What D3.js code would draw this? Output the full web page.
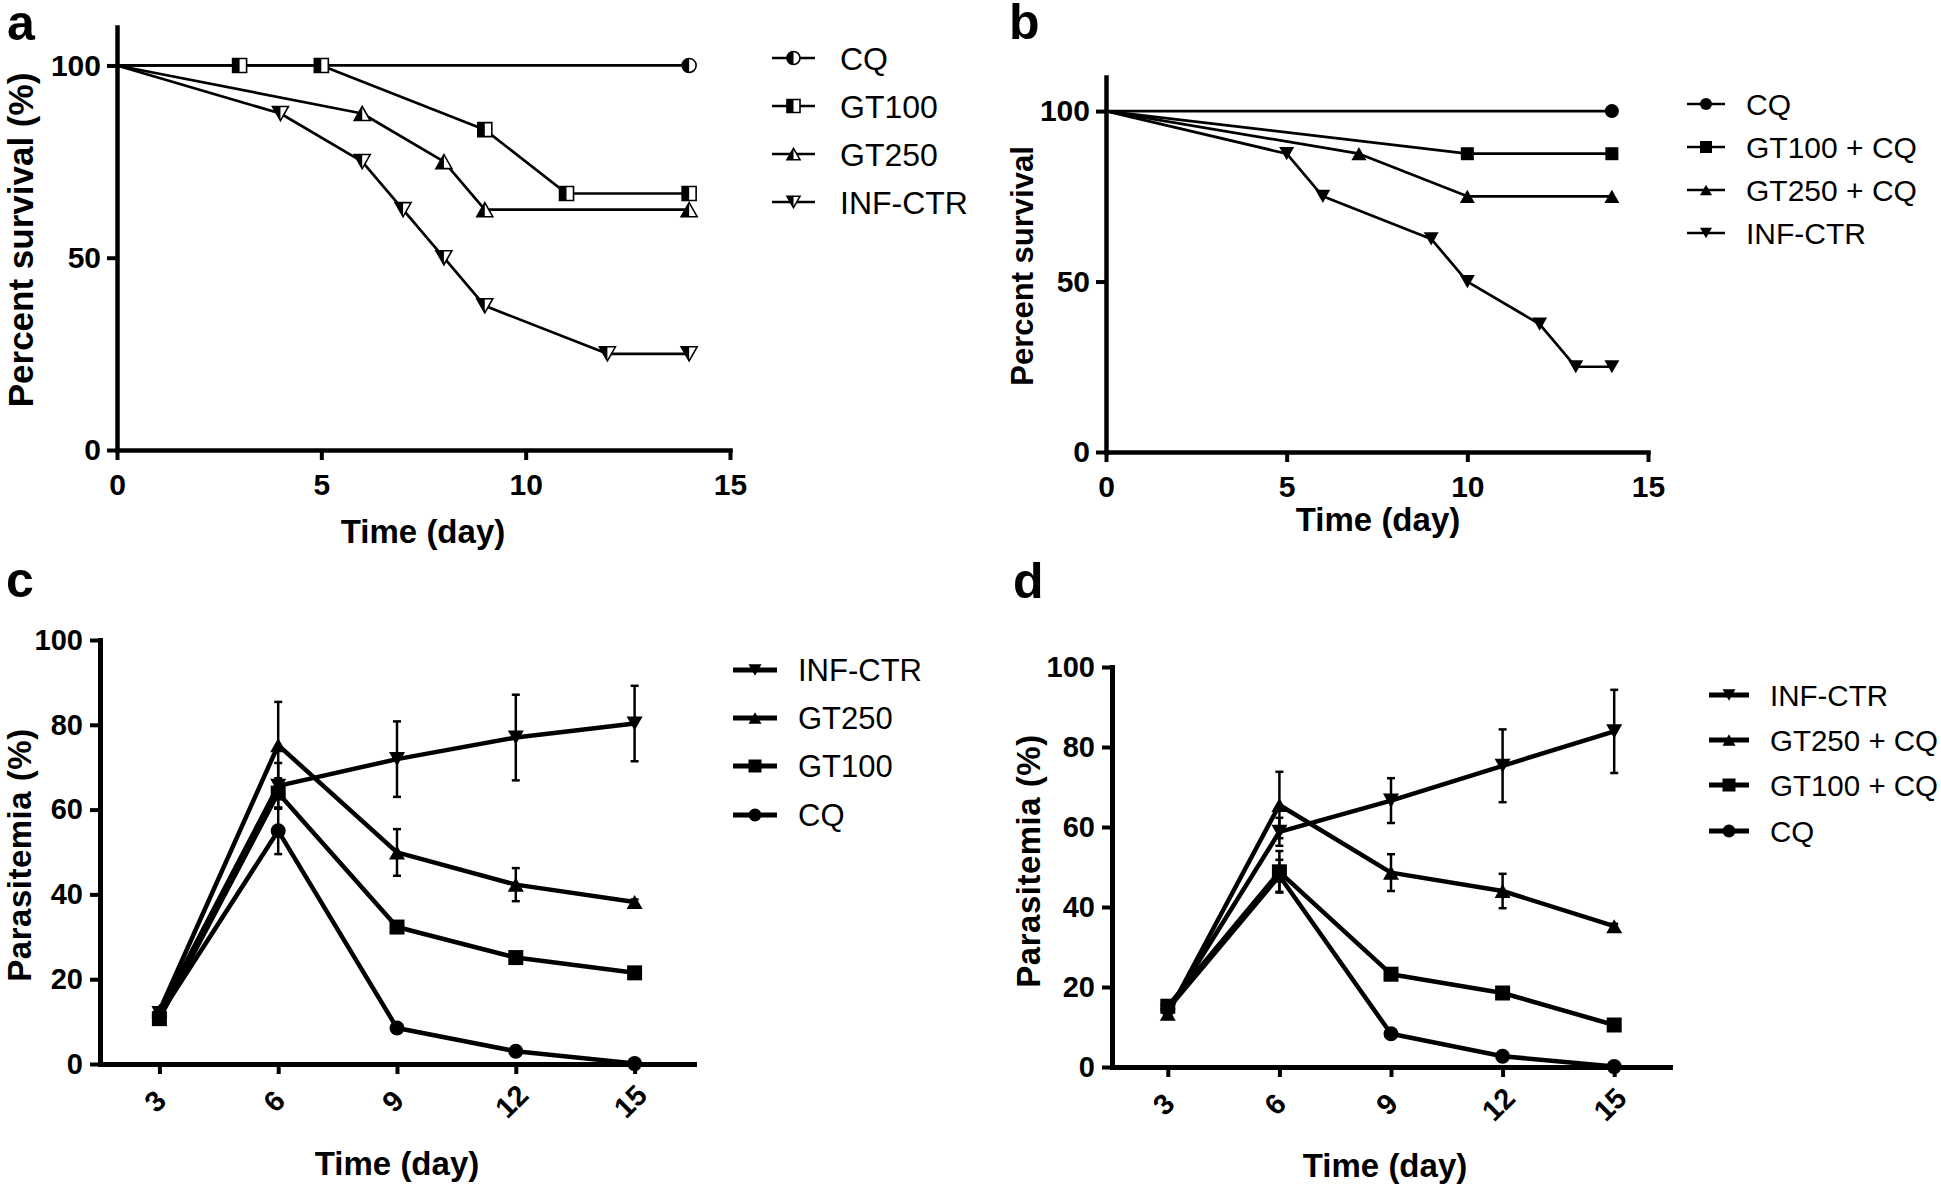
<!DOCTYPE html>
<html><head><meta charset="utf-8">
<script src="https://cdn.jsdelivr.net/npm/d3@7"></script>
<style>
html,body{margin:0;padding:0;background:#fff;}
svg{display:block;}
text{font-family:"Liberation Sans",Arial,Helvetica,sans-serif;fill:#000;}
</style></head><body>
<svg id="chart" width="1941" height="1185"></svg>
<script>
// ---------------- data ----------------
// Panel a: percent survival [day, %]
const aCQ    = [[0,100],[14,100]];
const aGT100 = [[0,100],[3,100],[5,100],[9,83.3],[11,66.7],[14,66.7]];
const aGT250 = [[0,100],[6,87.5],[8,75],[9,62.5],[14,62.5]];
const aINF   = [[0,100],[4,87.5],[6,75],[7,62.5],[8,50],[9,37.5],[12,25],[14,25]];
const aLabels = ["CQ","GT100","GT250","INF-CTR"];
// Panel b: percent survival [day, %]
const bCQ    = [[0,100],[14,100]];
const bGT100 = [[0,100],[10,87.5],[14,87.5]];
const bGT250 = [[0,100],[7,87.5],[10,75],[14,75]];
const bINF   = [[0,100],[5,87.5],[6,75],[9,62.5],[10,50],[12,37.5],[13,25],[14,25]];
const bLabels = ["CQ","GT100 + CQ","GT250 + CQ","INF-CTR"];
const survXTicks = [0,5,10,15];
const survYTicks = [0,50,100];
// Panels c, d: parasitemia (%) mean and error
const days = [3,6,9,12,15];
const cINF      = [12.0, 65.6, 71.9, 77.0, 80.3];
const cINFerr   = [0.8, 5.4, 8.9, 10.1, 8.9];
const cGT250    = [12.5, 75.2, 49.9, 42.3, 38.2];
const cGT250err = [0.8, 10.2, 5.5, 3.9, 0.6];
const cGT100    = [10.7, 63.9, 32.3, 25.1, 21.5];
const cGT100err = [0.8, 3.5, 0.6, 0.6, 0.6];
const cCQ       = [11.5, 55.0, 8.5, 3.0, 0.1];
const cCQerr    = [0.8, 5.5, 0.6, 0.5, 0.1];
const cLabels = ["INF-CTR","GT250","GT100","CQ"];
const dINF      = [14.0, 58.8, 66.6, 75.3, 83.9];
const dINFerr   = [0.6, 3.5, 5.6, 9.1, 10.4];
const dGT250    = [13.3, 65.5, 48.6, 44.0, 35.2];
const dGT250err = [0.6, 8.3, 4.6, 4.3, 0.6];
const dGT100    = [15.2, 48.8, 23.2, 18.5, 10.5];
const dGT100err = [0.6, 5.2, 0.6, 0.6, 0.6];
const dCQ       = [14.5, 47.8, 8.3, 2.7, 0.1];
const dCQerr    = [0.6, 4.0, 0.5, 0.5, 0.1];
const dLabels = ["INF-CTR","GT250 + CQ","GT100 + CQ","CQ"];
const paraXTicks = [3,6,9,12,15];
const paraYTicks = [0,20,40,60,80,100];

// ---------------- drawing ----------------
const svg = d3.select("#chart");
svg.append("defs").append("clipPath").attr("id","halfL")
  .attr("clipPathUnits","objectBoundingBox")
  .append("rect").attr("x",0).attr("y",0).attr("width",0.5).attr("height",1);

function shapePath(type, s){
  const h = s/2;
  if (type==="circle") return d3.symbol(d3.symbolCircle, Math.PI*h*h)();
  if (type==="square") return d3.symbol(d3.symbolSquare, s*s)();
  const th = s*0.88;
  if (type==="up") return `M0,${-th/2}L${h},${th/2}L${-h},${th/2}Z`;
  return `M0,${th/2}L${h},${-th/2}L${-h},${-th/2}Z`;
}
function marker(g, type, s, x, y, half){
  const p = shapePath(type, s);
  if (half){
    g.append("path").attr("d",p).attr("transform",`translate(${x},${y})`)
      .attr("fill","#fff").attr("stroke","#000").attr("stroke-width",1.6);
    g.append("path").attr("d",p).attr("transform",`translate(${x},${y})`)
      .attr("fill","#000").attr("clip-path","url(#halfL)");
  } else {
    g.append("path").attr("d",p).attr("transform",`translate(${x},${y})`).attr("fill","#000");
  }
}

function axes(g, x, y, o){
  const ya = g.append("g").attr("transform",`translate(${x.range()[0]},0)`)
    .call(d3.axisLeft(y).tickValues(o.yTicks).tickSize(10).tickSizeOuter(0).tickPadding(o.yPad));
  const xa = g.append("g").attr("transform",`translate(0,${y(0)})`)
    .call(d3.axisBottom(x).tickValues(o.xTicks).tickSize(10).tickSizeOuter(0).tickPadding(o.xPad));
  [ya,xa].forEach(a=>{
    a.select(".domain").attr("stroke","#000").attr("stroke-width",o.axisW).attr("stroke-linecap","square");
    a.selectAll(".tick line").attr("stroke","#000").attr("stroke-width",4);
    a.selectAll(".tick text").attr("font-size",o.tickFont).attr("font-weight","bold")
      .attr("font-family",'"Liberation Sans",Arial,sans-serif').attr("fill","#000");
  });
  if (o.rotate){
    xa.selectAll(".tick text").attr("x",0).attr("y",0).attr("dy","0.36em")
      .attr("text-anchor","middle").attr("transform","translate(-5,37) rotate(-45)");
  }
}

function titles(o){
  svg.append("text").attr("x",o.lab[0]).attr("y",o.lab[1]).attr("font-size",50)
    .attr("font-weight","bold").text(o.letter);
  svg.append("text").attr("transform",`translate(${o.ytPos[0]},${o.ytPos[1]}) rotate(-90)`)
    .attr("text-anchor","middle").attr("font-size",o.ytFont).attr("font-weight","bold")
    .attr("letter-spacing",o.ytSpacing||0).text(o.yTitle);
  svg.append("text").attr("x",o.xtPos[0]).attr("y",o.xtPos[1]).attr("text-anchor","middle")
    .attr("font-size",33).attr("font-weight","bold").text("Time (day)");
}

function legend(items, o){
  const g = svg.append("g");
  items.forEach((it,i)=>{
    const yy = o.ys[i];
    g.append("line").attr("x1",o.lx[0]).attr("x2",o.lx[1]).attr("y1",yy).attr("y2",yy)
      .attr("stroke","#000").attr("stroke-width",o.lineW);
    marker(g, it.type, o.ms, (o.lx[0]+o.lx[1])/2, yy, o.half);
    g.append("text").attr("x",o.tx).attr("y",yy).attr("dy","0.36em")
      .attr("font-size",o.font).text(it.label);
  });
}

// ---------- survival panels ----------
function survPanel(o){
  const g = svg.append("g");
  const x = d3.scaleLinear().domain([0,15]).range(o.xRange);
  const y = d3.scaleLinear().domain([0,110]).range(o.yRange);
  axes(g, x, y, {xTicks:survXTicks, yTicks:survYTicks, yPad:6, xPad:14, axisW:4.5, tickFont:30});
  const line = d3.line().x(d=>x(d[0])).y(d=>y(d[1]));
  o.series.forEach(s=>{
    g.append("path").attr("d",line(s.data)).attr("fill","none").attr("stroke","#000")
      .attr("stroke-width",2.7).attr("stroke-linejoin","round");
  });
  o.series.forEach(s=>{
    s.data.slice(1).forEach(d=> marker(g, s.type, s.size, x(d[0]), y(d[1]), o.half));
  });
  titles(o);
  legend(o.series.map((s,i)=>({type:s.type,label:o.labels[i]})), o.leg);
}

survPanel({
  xRange:[117,730], yRange:[450,27], half:true, letter:"a", lab:[7,40],
  yTitle:"Percent survival (%)", ytPos:[33,240], ytFont:35, xtPos:[423,543],
  labels:aLabels,
  series:[
    {data:aCQ, type:"circle", size:14},
    {data:aGT100, type:"square", size:14},
    {data:aGT250, type:"up", size:16},
    {data:aINF, type:"down", size:16}
  ],
  leg:{lx:[772,815], tx:840, ys:[58,106,154,202], lineW:2.7, ms:13, half:true, font:32}
});

survPanel({
  xRange:[1106,1648], yRange:[452,77], half:false, letter:"b", lab:[1009,39],
  yTitle:"Percent survival", ytPos:[1033,266], ytFont:31, xtPos:[1378,531],
  labels:bLabels,
  series:[
    {data:bCQ, type:"circle", size:14},
    {data:bGT100, type:"square", size:13},
    {data:bGT250, type:"up", size:15},
    {data:bINF, type:"down", size:15}
  ],
  leg:{lx:[1687,1725], tx:1746, ys:[104,147,190,233], lineW:2.7, ms:12, half:false, font:30}
});

// ---------- parasitemia panels ----------
function paraPanel(o){
  const g = svg.append("g");
  const x = d3.scaleLinear().domain([1.5,16.5]).range(o.xRange);
  const y = d3.scaleLinear().domain([0,100]).range(o.yRange);
  axes(g, x, y, {xTicks:paraXTicks, yTicks:paraYTicks, yPad:7, xPad:14, axisW:5, tickFont:29, rotate:true});
  const line = d3.line().x((d,i)=>x(days[i])).y(d=>y(d));
  o.series.forEach(s=>{
    g.append("path").attr("d",line(s.mean)).attr("fill","none").attr("stroke","#000")
      .attr("stroke-width",4.5).attr("stroke-linejoin","round");
  });
  o.series.forEach(s=>{
    s.mean.forEach((m,i)=>{
      const e = s.err[i], xx = x(days[i]);
      g.append("line").attr("x1",xx).attr("x2",xx).attr("y1",y(m-e)).attr("y2",y(m+e))
        .attr("stroke","#000").attr("stroke-width",2.5);
      [m-e,m+e].forEach(v=> g.append("line").attr("x1",xx-4).attr("x2",xx+4)
        .attr("y1",y(v)).attr("y2",y(v)).attr("stroke","#000").attr("stroke-width",2.5));
    });
  });
  o.series.forEach(s=>{
    s.mean.forEach((m,i)=> marker(g, s.type, s.size, x(days[i]), y(m), false));
  });
  titles(o);
  legend(o.series.map((s,i)=>({type:s.type,label:o.labels[i]})), o.leg);
}

paraPanel({
  xRange:[100,694], yRange:[1064,640], letter:"c", lab:[6,597],
  yTitle:"Parasitemia (%)", ytPos:[31,855], ytFont:33, ytSpacing:0.5, xtPos:[397,1175],
  labels:cLabels,
  series:[
    {mean:cINF, err:cINFerr, type:"down", size:16},
    {mean:cGT250, err:cGT250err, type:"up", size:16},
    {mean:cGT100, err:cGT100err, type:"square", size:15},
    {mean:cCQ, err:cCQerr, type:"circle", size:15}
  ],
  leg:{lx:[733,777], tx:798, ys:[670,718,766,815], lineW:5, ms:13, half:false, font:31}
});

paraPanel({
  xRange:[1112,1670], yRange:[1067,667], letter:"d", lab:[1013,598],
  yTitle:"Parasitemia (%)", ytPos:[1040,861], ytFont:33, ytSpacing:0.5, xtPos:[1385,1177],
  labels:dLabels,
  series:[
    {mean:dINF, err:dINFerr, type:"down", size:16},
    {mean:dGT250, err:dGT250err, type:"up", size:16},
    {mean:dGT100, err:dGT100err, type:"square", size:15},
    {mean:dCQ, err:dCQerr, type:"circle", size:15}
  ],
  leg:{lx:[1709,1749], tx:1770, ys:[695,740,785,831], lineW:5, ms:13, half:false, font:29.5}
});
</script>
</body></html>
